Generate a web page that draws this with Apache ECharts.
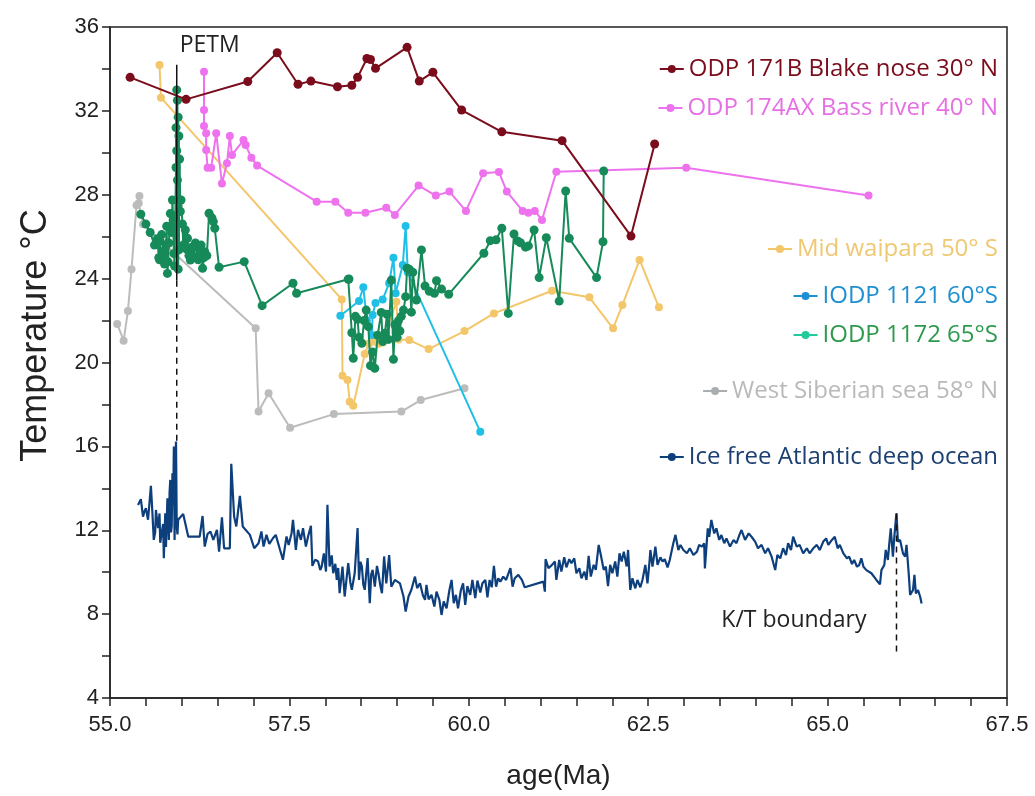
<!DOCTYPE html>
<html>
<head>
<meta charset="utf-8">
<title>Paleogene temperatures</title>
<script src="https://cdn.jsdelivr.net/npm/echarts@6/dist/echarts.min.js"></script>
<style>
  html, body { margin: 0; padding: 0; background: #fff; }
  #chart { width: 1035px; height: 796px; }
</style>
</head>
<body>
<div id="chart"></div>
<script>
// age (Ma), temperature (°C) pairs
const blakeNose = [[55.28, 33.6], [56.06, 32.55], [56.92, 33.4], [57.33, 34.77], [57.62, 33.27], [57.80, 33.42], [58.17, 33.15], [58.37, 33.22], [58.45, 33.6], [58.58, 34.5], [58.63, 34.45], [58.70, 34.03], [59.14, 35.03], [59.31, 33.42], [59.50, 33.84], [59.90, 32.04], [60.46, 31.0], [61.30, 30.58], [62.26, 26.03], [62.59, 30.42]]
const bassRiver = [[56.31, 33.87], [56.31, 32.04], [56.31, 31.28], [56.34, 30.93], [56.34, 30.13], [56.36, 29.29], [56.41, 29.29], [56.48, 30.93], [56.56, 28.54], [56.63, 29.5], [56.67, 30.8], [56.70, 29.9], [56.86, 30.61], [56.89, 30.37], [56.97, 29.77], [57.05, 29.39], [57.88, 27.67], [58.14, 27.67], [58.32, 27.14], [58.56, 27.14], [58.85, 27.38], [58.97, 27.04], [59.30, 28.44], [59.54, 27.96], [59.73, 28.15], [59.96, 27.23], [60.20, 29.02], [60.42, 29.08], [60.53, 28.15], [60.75, 27.23], [60.83, 27.14], [60.92, 27.23], [61.02, 26.8], [61.22, 29.1], [63.03, 29.29], [65.57, 27.96]]
const midWaipara = [[55.69, 34.19], [55.71, 32.63], [58.23, 23.01], [58.24, 19.37], [58.31, 19.17], [58.34, 18.13], [58.39, 17.94], [58.55, 20.41], [58.61, 20.91], [58.67, 21.0], [58.74, 20.9], [58.80, 20.95], [58.99, 22.9], [59.02, 21.1], [59.17, 21.07], [59.44, 20.64], [59.94, 21.5], [60.35, 22.34], [61.16, 23.42], [61.68, 23.11], [62.01, 21.63], [62.14, 22.74], [62.38, 24.89], [62.65, 22.63]]
const iodp1121 = [[58.21, 22.23], [58.47, 22.93], [58.53, 23.59], [58.58, 22.0], [58.65, 21.31], [58.66, 22.27], [58.70, 22.84], [58.80, 23.0], [58.89, 23.78], [58.95, 25.0], [58.98, 23.3], [59.08, 24.65], [59.12, 26.51], [59.15, 24.3], [60.16, 16.7]]
const iodp1172 = [[55.43, 27.07], [55.50, 26.6], [55.56, 26.2], [55.62, 25.6], [55.66, 25.9], [55.68, 25.0], [55.69, 24.9], [55.70, 25.8], [55.72, 26.1], [55.74, 25.3], [55.76, 24.7], [55.78, 25.6], [55.79, 26.5], [55.80, 24.25], [55.81, 24.8], [55.82, 25.7], [55.84, 27.1], [55.86, 26.2], [55.87, 27.75], [55.88, 26.8], [55.89, 25.2], [55.90, 24.6], [55.91, 27.0], [55.92, 29.3], [55.92, 31.2], [55.93, 33.0], [55.93, 30.1], [55.94, 32.5], [55.94, 28.7], [55.95, 31.7], [55.95, 24.45], [55.96, 30.8], [55.96, 25.37], [55.97, 29.7], [55.98, 27.2], [55.99, 27.75], [56.01, 26.6], [56.02, 25.6], [56.05, 26.32], [56.07, 25.4], [56.08, 25.92], [56.10, 25.1], [56.12, 24.89], [56.14, 25.5], [56.17, 25.0], [56.19, 25.7], [56.21, 25.52], [56.23, 24.9], [56.25, 25.21], [56.27, 25.6], [56.29, 24.49], [56.31, 25.0], [56.32, 25.28], [56.35, 25.1], [56.38, 27.12], [56.42, 26.9], [56.44, 26.72], [56.46, 26.4], [56.52, 24.54], [56.87, 24.81], [57.12, 22.71], [57.55, 23.78], [57.60, 23.3], [58.32, 23.97], [58.33, 23.98], [58.37, 21.42], [58.39, 20.2], [58.42, 22.2], [58.45, 22.06], [58.47, 21.2], [58.51, 20.92], [58.54, 22.0], [58.57, 22.5], [58.60, 21.71], [58.63, 19.85], [58.66, 20.5], [58.69, 19.72], [58.73, 21.3], [58.78, 22.39], [58.80, 21.0], [58.83, 21.39], [58.86, 22.3], [58.88, 21.1], [58.92, 23.93], [58.95, 20.15], [58.97, 21.8], [59.00, 21.2], [59.02, 22.0], [59.04, 21.5], [59.06, 22.2], [59.09, 22.5], [59.12, 23.14], [59.14, 24.5], [59.17, 24.45], [59.20, 22.4], [59.22, 24.3], [59.27, 22.98], [59.34, 25.37], [59.39, 23.65], [59.45, 23.4], [59.52, 23.3], [59.55, 23.9], [59.62, 23.5], [59.72, 23.25], [60.21, 25.21], [60.30, 25.81], [60.38, 25.85], [60.46, 26.4], [60.55, 22.34], [60.63, 26.13], [60.68, 25.8], [60.72, 25.71], [60.79, 25.5], [60.83, 25.56], [60.91, 26.32], [60.98, 24.05], [61.08, 25.95], [61.26, 22.93], [61.35, 28.18], [61.40, 25.92], [61.78, 24.05], [61.87, 25.76], [61.88, 29.13]]
const westSiberian = [[55.10, 21.84], [55.19, 21.04], [55.25, 22.46], [55.30, 24.45], [55.37, 27.5], [55.41, 27.94], [55.40, 27.6], [55.46, 26.59], [57.03, 21.63], [57.07, 17.66], [57.21, 18.53], [57.51, 16.89], [58.12, 17.54], [59.06, 17.66], [59.33, 18.21], [59.94, 18.77]]
const deepOcean = [[55.39, 13.21], [55.43, 13.48], [55.46, 12.65], [55.48, 12.9], [55.50, 13.05], [55.53, 12.5], [55.55, 13.3], [55.57, 14.12], [55.59, 12.89], [55.61, 11.54], [55.63, 11.9], [55.64, 12.97], [55.67, 12.1], [55.69, 12.8], [55.70, 11.4], [55.72, 11.86], [55.74, 12.3], [55.75, 10.67], [55.77, 12.81], [55.78, 11.2], [55.80, 13.53], [55.82, 11.54], [55.83, 13.8], [55.84, 14.4], [55.85, 11.9], [55.86, 12.18], [55.87, 14.72], [55.88, 13.2], [55.89, 15.99], [55.90, 11.54], [55.91, 15.2], [55.92, 16.23], [55.93, 12.18], [55.94, 11.8], [55.95, 12.5], [56.02, 12.78], [56.09, 11.7], [56.25, 11.7], [56.29, 12.68], [56.32, 11.22], [56.36, 11.83], [56.40, 11.94], [56.44, 11.54], [56.49, 12.02], [56.52, 10.98], [56.56, 12.62], [56.59, 11.14], [56.67, 11.14], [56.69, 15.17], [56.73, 12.65], [56.76, 12.18], [56.81, 13.64], [56.85, 12.18], [56.95, 11.78], [57.01, 11.14], [57.07, 11.38], [57.11, 11.94], [57.14, 11.22], [57.18, 11.78], [57.22, 11.35], [57.27, 11.62], [57.31, 11.78], [57.37, 11.06], [57.41, 10.59], [57.46, 11.7], [57.49, 11.3], [57.53, 11.86], [57.55, 12.5], [57.59, 11.06], [57.62, 12.02], [57.66, 11.54], [57.69, 12.1], [57.73, 11.22], [57.76, 11.7], [57.80, 12.21], [57.82, 10.3], [57.86, 10.6], [57.90, 10.51], [57.93, 10.1], [57.95, 10.27], [57.98, 10.9], [58.01, 10.03], [58.03, 13.21], [58.06, 10.27], [58.09, 10.8], [58.11, 9.95], [58.14, 10.4], [58.16, 9.63], [58.18, 10.2], [58.20, 9.0], [58.24, 10.27], [58.27, 8.84], [58.30, 9.8], [58.32, 10.43], [58.35, 9.5], [58.37, 9.16], [58.41, 9.95], [58.45, 12.1], [58.47, 9.63], [58.49, 10.5], [58.51, 10.27], [58.53, 9.4], [58.55, 9.16], [58.59, 10.67], [58.62, 8.52], [58.64, 9.9], [58.66, 10.11], [58.69, 9.31], [58.72, 10.3], [58.74, 9.95], [58.77, 9.3], [58.79, 9.0], [58.82, 10.75], [58.85, 9.47], [58.89, 10.82], [58.92, 9.31], [58.97, 9.63], [59.04, 9.47], [59.09, 8.84], [59.12, 8.12], [59.16, 8.84], [59.20, 9.16], [59.25, 9.79], [59.28, 9.24], [59.32, 9.47], [59.36, 8.9], [59.39, 8.68], [59.41, 9.39], [59.44, 8.7], [59.48, 8.92], [59.52, 8.36], [59.55, 9.07], [59.59, 8.68], [59.62, 7.96], [59.65, 8.6], [59.69, 8.28], [59.73, 9.15], [59.76, 9.63], [59.79, 8.52], [59.82, 8.92], [59.85, 8.28], [59.89, 9.15], [59.92, 9.47], [59.95, 8.44], [59.98, 9.34], [60.02, 8.92], [60.05, 9.63], [60.09, 8.76], [60.12, 9.6], [60.16, 9.03], [60.19, 9.47], [60.23, 9.63], [60.26, 8.8], [60.29, 9.63], [60.32, 9.28], [60.35, 10.3], [60.38, 9.31], [60.41, 9.71], [60.44, 9.55], [60.48, 9.79], [60.52, 9.63], [60.55, 9.92], [60.58, 10.19], [60.61, 9.31], [60.64, 9.71], [60.69, 9.87], [60.74, 9.63], [60.78, 9.28], [61.04, 9.55], [61.06, 9.07], [61.07, 10.62], [61.11, 10.19], [61.16, 10.35], [61.20, 10.51], [61.22, 9.63], [61.26, 10.58], [61.29, 10.03], [61.33, 10.71], [61.36, 10.23], [61.40, 10.62], [61.43, 10.43], [61.47, 10.66], [61.50, 9.95], [61.54, 10.19], [61.57, 9.71], [61.61, 10.03], [61.64, 9.63], [61.67, 10.78], [61.70, 9.79], [61.74, 10.35], [61.77, 10.11], [61.81, 11.3], [61.84, 10.82], [61.88, 10.11], [61.91, 10.27], [61.94, 9.34], [61.97, 10.35], [62.00, 9.95], [62.04, 10.51], [62.07, 9.79], [62.10, 10.9], [62.13, 10.51], [62.16, 10.98], [62.20, 10.27], [62.22, 11.06], [62.25, 9.15], [62.28, 9.71], [62.32, 9.23], [62.35, 9.63], [62.39, 9.28], [62.42, 9.63], [62.46, 10.35], [62.49, 9.47], [62.52, 10.58], [62.53, 11.06], [62.56, 10.27], [62.60, 11.22], [62.63, 10.35], [62.67, 10.71], [62.70, 10.51], [62.73, 10.62], [62.77, 10.23], [62.80, 10.58], [62.85, 11.38], [62.88, 11.78], [62.92, 11.06], [62.95, 11.3], [62.99, 11.06], [63.04, 10.9], [63.08, 11.14], [63.13, 10.82], [63.18, 10.98], [63.21, 11.3], [63.25, 11.22], [63.28, 11.38], [63.29, 10.18], [63.31, 10.27], [63.33, 12.09], [63.35, 11.69], [63.38, 12.49], [63.42, 11.85], [63.45, 12.09], [63.49, 11.54], [63.52, 11.77], [63.56, 11.38], [63.59, 11.61], [63.64, 11.22], [63.69, 11.54], [63.73, 11.38], [63.77, 11.77], [63.80, 12.01], [63.85, 11.54], [63.90, 11.85], [63.94, 11.69], [63.99, 11.46], [64.03, 11.14], [64.08, 11.3], [64.13, 10.9], [64.17, 11.14], [64.22, 10.74], [64.27, 10.1], [64.30, 10.82], [64.34, 10.66], [64.38, 11.14], [64.42, 10.82], [64.45, 11.38], [64.49, 11.06], [64.52, 11.69], [64.57, 11.22], [64.61, 11.3], [64.66, 10.9], [64.71, 11.14], [64.75, 10.9], [64.80, 11.14], [64.85, 11.3], [64.89, 11.06], [64.94, 11.46], [64.98, 11.61], [65.01, 11.3], [65.06, 11.54], [65.10, 11.69], [65.14, 11.14], [65.17, 11.3], [65.22, 10.9], [65.27, 10.66], [65.30, 10.74], [65.34, 10.39], [65.37, 10.58], [65.41, 10.26], [65.44, 10.34], [65.47, 10.66], [65.50, 10.26], [65.54, 10.1], [65.61, 9.95], [65.68, 9.63], [65.73, 9.42], [65.75, 10.1], [65.79, 10.34], [65.81, 11.06], [65.84, 10.58], [65.86, 11.38], [65.88, 12.09], [65.91, 10.74], [65.93, 11.69], [65.95, 12.49], [65.96, 12.81], [65.98, 11.46], [66.01, 11.54], [66.05, 10.9], [66.08, 10.74], [66.10, 11.3], [66.13, 9.95], [66.15, 8.91], [66.19, 9.15], [66.21, 9.87], [66.23, 8.99], [66.26, 9.15], [66.29, 8.83], [66.31, 8.51]]

// event markers
const petmSolid = [[55.93, 34.2], [55.93, 23.9]]
const petmDashed = [[55.93, 23.9], [55.93, 16.2]]
const ktDashed = [[65.96, 12.8], [65.96, 6.2]]
const ktLabel = [64.53, 7.7]

const legendFont = '"Open Sans", "Noto Sans", sans-serif'
const axisFont = '"Liberation Sans", Arial, sans-serif'

function legendAt(name, top, textColor, iconColor) {
  const item = { name: name }
  if (iconColor) {
    item.itemStyle = { color: iconColor }
    item.lineStyle = { color: iconColor }
  }
  return {
    data: [item],
    right: 32,
    top: top,
    itemWidth: 24,
    itemHeight: 10,
    itemGap: 8,
    textStyle: { color: textColor, fontSize: 24, fontFamily: legendFont }
  }
}

function dotSeries(name, data, color, size, z) {
  return {
    name: name,
    type: 'line',
    data: data,
    symbol: 'circle',
    symbolSize: size,
    z: z,
    lineStyle: { color: color, width: 2 },
    itemStyle: { color: color }
  }
}

const chart = echarts.init(document.getElementById('chart'))
chart.setOption({
  animation: false,
  backgroundColor: '#fff',
  grid: {
    left: 110,
    right: 28,
    top: 27,
    bottom: 98,
    show: true,
    borderColor: '#222',
    borderWidth: 1.5
  },
  legend: [
    legendAt('ODP 171B Blake nose 30° N', 52, '#7a0c1c'),
    legendAt('ODP 174AX Bass river 40° N', 91, '#e56fe3'),
    legendAt('Mid waipara 50° S', 232, '#efc873'),
    legendAt('IODP 1121 60°S', 279, '#1e8fd0', '#1e8fd0'),
    legendAt('IODP 1172 65°S', 318, '#2e9a4e', '#22c99c'),
    legendAt('West Siberian sea 58° N', 374, '#b9b9b9', '#a8aeb0'),
    legendAt('Ice free Atlantic deep ocean', 440, '#1b3f70')
  ],
  xAxis: {
    type: 'value',
    min: 55,
    max: 67.5,
    interval: 2.5,
    name: 'age(Ma)',
    nameLocation: 'middle',
    nameGap: 64,
    nameTextStyle: { fontSize: 28, color: '#222', fontFamily: axisFont },
    axisLine: { lineStyle: { color: '#222', width: 1.5 } },
    axisTick: { length: 8, lineStyle: { color: '#222', width: 1.5 } },
    minorTick: { show: true, splitNumber: 5, length: 8, lineStyle: { color: '#222', width: 1.5 } },
    axisLabel: {
      margin: 16,
      fontSize: 22,
      color: '#222',
      fontFamily: axisFont,
      formatter: v => v.toFixed(1)
    },
    splitLine: { show: false }
  },
  yAxis: {
    type: 'value',
    min: 4,
    max: 36,
    interval: 4,
    name: 'Temperature °C',
    nameLocation: 'middle',
    nameGap: 56,
    nameTextStyle: { fontSize: 36, color: '#222', fontFamily: axisFont, padding: [0, 0, 0, 54] },
    axisLine: { lineStyle: { color: '#222', width: 1.5 } },
    axisTick: { length: 8, lineStyle: { color: '#222', width: 1.5 } },
    minorTick: { show: true, splitNumber: 2, length: 8, lineStyle: { color: '#222', width: 1.5 } },
    axisLabel: { margin: 11, fontSize: 22, color: '#222', fontFamily: axisFont },
    splitLine: { show: false }
  },
  series: [
    dotSeries('West Siberian sea 58° N', westSiberian, '#bcbcbc', 8, 2),
    dotSeries('Mid waipara 50° S', midWaipara, '#f4c66a', 8, 3),
    dotSeries('IODP 1121 60°S', iodp1121, '#20bfe6', 8, 4),
    dotSeries('IODP 1172 65°S', iodp1172, '#168a59', 9, 5),
    dotSeries('ODP 174AX Bass river 40° N', bassRiver, '#ee72ee', 8, 3),
    dotSeries('ODP 171B Blake nose 30° N', blakeNose, '#7a0c1c', 9, 6),
    {
      name: 'Ice free Atlantic deep ocean',
      type: 'line',
      data: deepOcean,
      symbol: 'none',
      z: 3,
      lineStyle: { color: '#0e3f7d', width: 2.2 },
      itemStyle: { color: '#0e3f7d' }
    },
    {
      type: 'line',
      data: petmSolid,
      symbol: 'none',
      z: 7,
      silent: true,
      lineStyle: { color: '#111', width: 1.5 },
      markPoint: {
        symbol: 'circle',
        symbolSize: 0,
        label: {
          show: true,
          formatter: 'PETM',
          position: 'top',
          offset: [33, -3],
          fontSize: 23,
          color: '#222',
          fontFamily: legendFont
        },
        data: [{ coord: petmSolid[0] }]
      }
    },
    {
      type: 'line',
      data: petmDashed,
      symbol: 'none',
      z: 7,
      silent: true,
      lineStyle: { color: '#111', width: 1.5, type: [6, 5] }
    },
    {
      type: 'line',
      data: ktDashed,
      symbol: 'none',
      z: 7,
      silent: true,
      lineStyle: { color: '#111', width: 1.5, type: [6, 5] },
      markPoint: {
        symbol: 'circle',
        symbolSize: 0,
        label: {
          show: true,
          formatter: 'K/T boundary',
          position: 'inside',
          fontSize: 23,
          color: '#222',
          fontFamily: legendFont
        },
        data: [{ coord: ktLabel }]
      }
    }
  ]
})
</script>
</body>
</html>
